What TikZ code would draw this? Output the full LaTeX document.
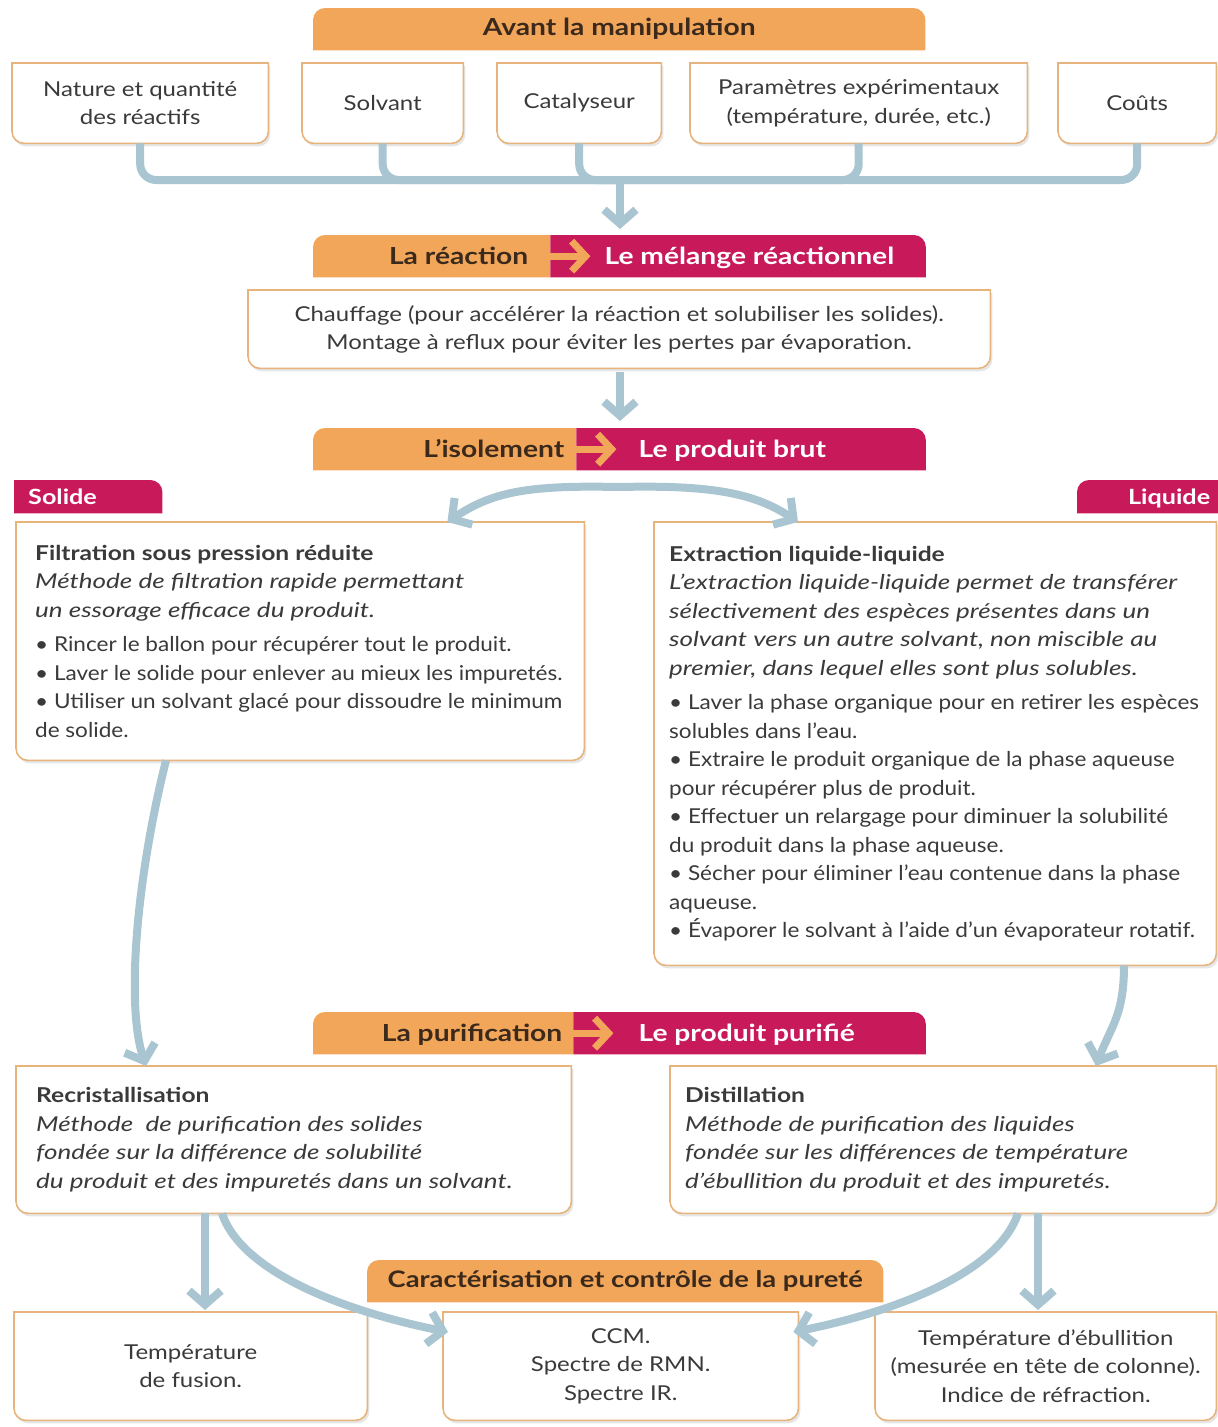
\documentclass[tikz,border=0pt]{standalone}
\usepackage{fontspec}
\setmainfont{Lato}[UprightFeatures={FakeStretch=1.17},
  BoldFeatures={FakeStretch=1.2}, ItalicFeatures={FakeStretch=1.27}]
\newfontfamily\listfont{Lato}[UprightFeatures={FakeStretch=1.1},
  BoldFeatures={FakeStretch=1.2}, ItalicFeatures={FakeStretch=1.27}]
\usetikzlibrary{positioning, arrows.meta, calc, backgrounds, shadows}
\definecolor{taborange}{HTML}{F2A65A}
\definecolor{tabmagenta}{HTML}{C8195B}
\definecolor{cardline}{HTML}{E6B47C}
\definecolor{linkblue}{HTML}{A9C5D1}
\definecolor{textmain}{HTML}{3A3A3A}
\definecolor{tabdark}{HTML}{3B2A1C}

\newcommand{\cardfont}{\fontsize{20.5}{28.5}\selectfont}
\newcommand{\tabfont}{\fontsize{23.5}{28}\selectfont\bfseries}
\newcommand{\sidefont}{\fontsize{21}{25}\selectfont\bfseries}

% card outline: square top, rounded bottom
\newcommand{\cardshape}[1]{%
  \path[cardpath] (#1.north west) -- (#1.north east)
    -- ([yshift=12pt]#1.south east)
       .. controls ([yshift=5.4pt]#1.south east) and ([xshift=-5.4pt]#1.south east) .. ([xshift=-12pt]#1.south east)
    -- ([xshift=12pt]#1.south west)
       .. controls ([xshift=5.4pt]#1.south west) and ([yshift=5.4pt]#1.south west) .. ([yshift=12pt]#1.south west)
    -- cycle;}
% tab fills
\newcommand{\tabboth}[2]{%
  \fill[#2] (#1.south west)
    -- ([yshift=-12pt]#1.north west)
       .. controls ([yshift=-5.4pt]#1.north west) and ([xshift=5.4pt]#1.north west) .. ([xshift=12pt]#1.north west)
    -- ([xshift=-12pt]#1.north east)
       .. controls ([xshift=-5.4pt]#1.north east) and ([yshift=-5.4pt]#1.north east) .. ([yshift=-12pt]#1.north east)
    -- (#1.south east) -- cycle;}
\newcommand{\tableft}[2]{%
  \fill[#2] (#1.south west)
    -- ([yshift=-12pt]#1.north west)
       .. controls ([yshift=-5.4pt]#1.north west) and ([xshift=5.4pt]#1.north west) .. ([xshift=12pt]#1.north west)
    -- (#1.north east) -- (#1.south east) -- cycle;}
\newcommand{\tabright}[2]{%
  \fill[#2] (#1.south west) -- (#1.north west)
    -- ([xshift=-12pt]#1.north east)
       .. controls ([xshift=-5.4pt]#1.north east) and ([yshift=-5.4pt]#1.north east) .. ([yshift=-12pt]#1.north east)
    -- (#1.south east) -- cycle;}

\begin{document}
\begin{tikzpicture}[x=1pt, y=-1pt,
    card/.style={inner sep=0pt, anchor=north west, align=center,
                 font=\cardfont, text=textmain},
    cardpath/.style={draw=cardline, line width=1.6pt, fill=white,
                     drop shadow={opacity=0.2, shadow xshift=2pt, shadow yshift=-3pt}},
    tab/.style={inner sep=0pt, anchor=north west, minimum height=42pt},
    tabtxt/.style={inner sep=0pt, font=\tabfont, text=tabdark,
                   text height=17pt, text depth=0pt},
    tabtxtw/.style={tabtxt, text=white},
    body/.style={inner sep=0pt, align=left, font=\cardfont\listfont, text=textmain},
    link/.style={draw=linkblue, line width=8pt},
    arrow/.style={link, -{Straight Barb[length=14pt, width=32pt]}},
    tabarrow/.style={draw=taborange, line width=7pt,
                     -{Straight Barb[length=14pt, width=30pt]}}
  ]
  \useasboundingbox (0,0) rectangle (1218,1427);

  % before the experiment
  \node[tab, minimum width=612pt, font=\tabfont, text=tabdark] (avant) at (313,8) {Avant la manipulation};
  \node[card, minimum width=256pt, minimum height=80pt] (nat) at (12,63) {Nature et quantité\\des réactifs};
  \node[card, minimum width=161pt, minimum height=80pt] (sol) at (302,63) {Solvant};
  \node[card, minimum width=164pt, minimum height=80pt] (cat) at (497,63) {Catalyseur};
  \node[card, minimum width=337pt, minimum height=80pt] (par) at (690,63) {Paramètres expérimentaux\\(température, durée, etc.)};
  \node[card, minimum width=158pt, minimum height=80pt] (cou) at (1058,63) {Coûts};

  % reaction
  \node[tab, minimum width=237pt] (rea) at (313,235) {};
  \node[tab, minimum width=375pt, right=0pt of rea] (mel) {};
  \node[tabtxt, left=22pt of rea.east] (reatxt) {La réaction};
  \node[tabtxtw, right=54pt of mel.west] (meltxt) {Le mélange réactionnel};
  \node[card, minimum width=742pt, minimum height=78pt] (chauf) at (248,290)
    {Chauffage (pour accélérer la réaction et solubiliser les solides).\\Montage à reflux pour éviter les pertes par évaporation.};

  % isolation
  \node[tab, minimum width=263pt] (iso) at (313,428) {};
  \node[tab, minimum width=349pt, right=0pt of iso] (brut) {};
  \node[tabtxt, left=12pt of iso.east] (isotxt) {L’isolement};
  \node[tabtxtw, right=62pt of brut.west] (bruttxt) {Le produit brut};

  \node[tab, minimum width=148pt, minimum height=33pt] (solide) at (14,480) {};
  \node[tabtxtw, font=\sidefont, text height=15pt, right=14pt of solide.west] (solidetxt) {Solide};
  \node[tab, minimum width=141pt, minimum height=33pt] (liquide) at (1077,480) {};
  \node[tabtxtw, font=\sidefont, text height=15pt, left=8pt of liquide.east] (liquidetxt) {Liquide};

  \node[card, minimum width=568pt, minimum height=238pt] (filt) at (16,522) {};
  \node[body, right=19pt of filt.west] (filttxt) {\textbf{Filtration sous pression réduite}\\
    \textit{Méthode de filtration rapide permettant}\\
    \textit{un essorage efficace du produit.}\\[6pt]
    • Rincer le ballon pour récupérer tout le produit.\\
    • Laver le solide pour enlever au mieux les impuretés.\\
    • Utiliser un solvant glacé pour dissoudre le minimum\\
    de solide.};
  \node[card, minimum width=562pt, minimum height=443pt] (extr) at (654,522) {};
  \node[body, right=15pt of extr.west] (extrtxt) {\textbf{Extraction liquide-liquide}\\
    \textit{L’extraction liquide-liquide permet de transférer}\\
    \textit{sélectivement des espèces présentes dans un}\\
    \textit{solvant vers un autre solvant, non miscible au}\\
    \textit{premier, dans lequel elles sont plus solubles.}\\[6pt]
    • Laver la phase organique pour en retirer les espèces\\
    solubles dans l’eau.\\
    • Extraire le produit organique de la phase aqueuse\\
    pour récupérer plus de produit.\\
    • Effectuer un relargage pour diminuer la solubilité\\
    du produit dans la phase aqueuse.\\
    • Sécher pour éliminer l’eau contenue dans la phase\\
    aqueuse.\\
    • Évaporer le solvant à l’aide d’un évaporateur rotatif.};

  % purification
  \node[tab, minimum width=260pt] (pur) at (313,1012) {};
  \node[tab, minimum width=352pt, right=0pt of pur] (purif) {};
  \node[tabtxt, left=11pt of pur.east] (purtxt) {La purification};
  \node[tabtxtw, right=65pt of purif.west] (puriftxt) {Le produit purifié};

  \node[card, minimum width=555pt, minimum height=147pt] (recr) at (16,1066) {};
  \node[body, right=20pt of recr.west] (recrtxt) {\textbf{Recristallisation}\\
    \textit{Méthode\ \ de purification des solides}\\
    \textit{fondée sur la différence de solubilité}\\
    \textit{du produit et des impuretés dans un solvant.}};
  \node[card, minimum width=546pt, minimum height=147pt] (dist) at (670,1066) {};
  \node[body, right=15pt of dist.west] (disttxt) {\textbf{Distillation}\\
    \textit{Méthode de purification des liquides}\\
    \textit{fondée sur les différences de température}\\
    \textit{d’ébullition du produit et des impuretés.}};

  % characterisation
  \node[tab, minimum width=516pt, font=\fontsize{22.8}{28}\selectfont\bfseries, text=tabdark] (cara) at (367,1260) {Caractérisation et contrôle de la pureté};
  \node[card, minimum width=353pt, minimum height=108pt] (fus) at (14,1312) {Température\\de fusion.};
  \node[card, minimum width=355pt, minimum height=108pt] (ccm) at (443,1312) {CCM.\\Spectre de RMN.\\Spectre IR.};
  \node[card, minimum width=341pt, minimum height=108pt] (ebu) at (875,1312)
    {Température d’ébullition\\(mesurée en tête de colonne).\\Indice de réfraction.};

  % shapes behind the texts
  \begin{scope}[on background layer]
    \foreach \nm in {nat,sol,cat,par,cou,chauf,filt,extr,recr,dist,fus,ccm,ebu} {\cardshape{\nm}}
    \tabboth{avant}{taborange}
    \tabboth{cara}{taborange}
    \tableft{rea}{taborange}  \tabright{mel}{tabmagenta}
    \tableft{iso}{taborange}  \tabright{brut}{tabmagenta}
    \tableft{pur}{taborange}  \tabright{purif}{tabmagenta}
    \tabright{solide}{tabmagenta}
    \tableft{liquide}{tabmagenta}
  \end{scope}

  \draw[tabarrow] ([xshift=-6pt]rea.east) -- ([xshift=40pt]rea.east);
  \draw[tabarrow] ([xshift=-6pt]iso.east) -- ([xshift=40pt]iso.east);
  \draw[tabarrow] ([xshift=-6pt]pur.east) -- ([xshift=40pt]pur.east);

  % connectors
  \coordinate (bus) at (620,180);
  \draw[link, rounded corners=16pt] (nat.south) |- (bus) -| (cou.south);
  \draw[link, rounded corners=16pt] (sol.south) |- (bus);
  \draw[link, rounded corners=16pt] (cat.south) |- (bus);
  \draw[link, rounded corners=16pt] (par.south) |- (bus);
  \draw[arrow, shorten >=6pt] (bus) -- (bus |- rea.north);
  \draw[arrow, shorten <=4pt, shorten >=7pt] (chauf.south -| bus) -- (bus |- iso.north);

  \coordinate (split) at (618,487);
  \draw[arrow] (split) .. controls +(-90,-2) and +(45,-30) .. ([xshift=-137pt]filt.north east);
  \draw[arrow] (split) .. controls +(90,-2) and +(-45,-30) .. ([xshift=144pt]extr.north west);

  \draw[arrow] ([xshift=150pt]filt.south west) .. controls +(-30,120) and +(-20,-60) .. ([xshift=130pt]recr.north west);
  \draw[arrow] ([xshift=470pt]extr.south west) .. controls +(0,50) and +(15,-40) .. ([xshift=426pt]dist.north west);

  \draw[arrow, shorten >=2pt] ([xshift=189pt]recr.south west) -- ([xshift=191pt]fus.north west);
  \draw[arrow] ([xshift=206pt]recr.south west) .. controls +(20,60) and +(-100,-20) .. ([shift={(5pt,-20pt)}]ccm.north west);
  \draw[arrow] ([xshift=348pt]dist.south west) .. controls +(-20,60) and +(100,-20) .. ([shift={(-5pt,-20pt)}]ccm.north east);
  \draw[arrow, shorten >=2pt] ([xshift=368pt]dist.south west) -- ([xshift=163pt]ebu.north west);
\end{tikzpicture}
\end{document}
